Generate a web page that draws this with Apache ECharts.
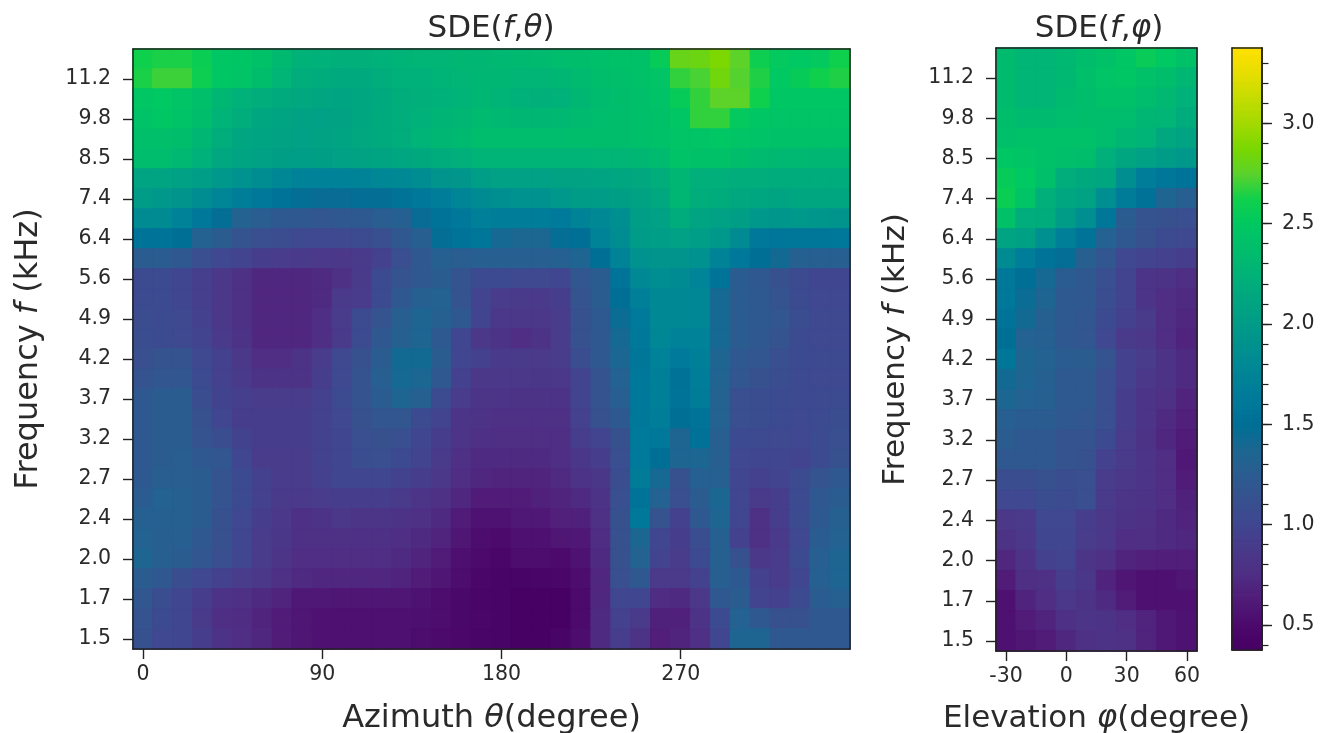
<!DOCTYPE html>
<html><head><meta charset="utf-8">
<style>html,body{margin:0;padding:0;background:#fff}#c{width:1321px;height:733px;filter:blur(0.6px)}</style>
<script src="https://cdn.jsdelivr.net/npm/echarts@6/dist/echarts.min.js"></script>
</head><body><div id="c"></div>
<script>
const azimuthDeg = ['0','10','20','30','40','50','60','70','80','90','100','110','120','130','140','150','160','170','180','190','200','210','220','230','240','250','260','270','280','290','300','310','320','330','340','350'];
const elevationDeg = ['-30','-20','-10','0','10','20','30','40','50','60'];
const freqKHz = ['1.5','1.6','1.7','1.85','2.0','2.2','2.4','2.55','2.7','2.95','3.2','3.45','3.7','3.95','4.2','4.55','4.9','5.25','5.6','6.0','6.4','6.9','7.4','7.9','8.5','9.1','9.8','10.5','11.2','12.0'];
// rows listed top (12.0 kHz) to bottom (1.5 kHz)
const sdeAzimuth = [
[2.62,2.64,2.64,2.58,2.48,2.47,2.42,2.33,2.25,2.24,2.22,2.22,2.24,2.26,2.28,2.28,2.3,2.3,2.32,2.33,2.34,2.36,2.38,2.4,2.42,2.42,2.55,2.8,2.82,2.88,2.76,2.6,2.52,2.5,2.52,2.62],
[2.64,2.7,2.7,2.6,2.48,2.45,2.38,2.28,2.2,2.18,2.16,2.16,2.2,2.24,2.24,2.26,2.28,2.3,2.3,2.28,2.28,2.3,2.34,2.38,2.4,2.42,2.45,2.68,2.72,2.84,2.74,2.65,2.5,2.55,2.62,2.65],
[2.48,2.5,2.46,2.4,2.3,2.24,2.2,2.17,2.14,2.12,2.1,2.12,2.16,2.2,2.22,2.24,2.26,2.3,2.26,2.24,2.22,2.24,2.3,2.35,2.38,2.4,2.44,2.55,2.68,2.76,2.76,2.62,2.48,2.48,2.48,2.48],
[2.44,2.48,2.44,2.38,2.26,2.2,2.12,2.1,2.08,2.06,2.08,2.12,2.17,2.2,2.24,2.27,2.3,2.34,2.32,2.3,2.3,2.32,2.34,2.36,2.38,2.4,2.42,2.48,2.68,2.68,2.52,2.48,2.46,2.46,2.46,2.46],
[2.4,2.4,2.38,2.3,2.2,2.12,2.1,2.08,2.06,2.08,2.1,2.14,2.17,2.2,2.26,2.3,2.33,2.36,2.36,2.36,2.36,2.36,2.38,2.38,2.38,2.4,2.42,2.46,2.46,2.48,2.46,2.44,2.42,2.42,2.42,2.42],
[2.36,2.36,2.32,2.24,2.14,2.1,2.06,2.04,2.02,2.04,2.06,2.08,2.1,2.12,2.15,2.18,2.22,2.26,2.26,2.26,2.26,2.26,2.26,2.28,2.28,2.3,2.34,2.44,2.42,2.42,2.38,2.34,2.32,2.32,2.3,2.3],
[2.1,2.1,2.06,2.02,1.96,1.9,1.84,1.78,1.72,1.72,1.72,1.74,1.78,1.8,1.84,1.92,1.94,2.02,2.06,2.06,2.06,2.08,2.08,2.1,2.12,2.14,2.2,2.3,2.22,2.22,2.2,2.2,2.18,2.18,2.18,2.18],
[2.0,1.96,1.92,1.84,1.76,1.66,1.6,1.55,1.48,1.46,1.46,1.48,1.48,1.54,1.6,1.68,1.76,1.82,1.86,1.9,1.9,1.96,2.0,2.0,2.04,2.08,2.14,2.3,2.2,2.18,2.14,2.12,2.1,2.12,2.12,2.12],
[1.82,1.82,1.72,1.6,1.48,1.32,1.26,1.22,1.2,1.18,1.2,1.22,1.26,1.3,1.46,1.55,1.6,1.7,1.66,1.66,1.66,1.62,1.74,1.8,1.86,2.02,2.06,2.18,2.1,2.06,2.04,1.96,1.94,1.96,1.94,1.92],
[1.55,1.55,1.5,1.32,1.25,1.15,1.1,1.07,1.03,1.03,1.03,1.05,1.1,1.2,1.28,1.48,1.55,1.58,1.4,1.38,1.38,1.48,1.5,1.74,1.84,2.0,2.02,2.06,2.02,1.96,1.82,1.6,1.58,1.58,1.58,1.6],
[1.25,1.25,1.2,1.1,1.02,.98,.92,.9,.88,.86,.85,.87,.95,1.1,1.2,1.3,1.26,1.28,1.28,1.28,1.28,1.3,1.35,1.5,1.74,1.9,1.92,1.92,1.9,1.74,1.6,1.5,1.42,1.3,1.28,1.28],
[1.05,1.05,1.0,.93,.85,.78,.7,.7,.7,.72,.78,.88,1.05,1.15,1.2,1.25,1.15,1.05,1.05,1.03,1.03,1.0,1.18,1.25,1.55,1.8,1.85,1.82,1.75,1.55,1.25,1.2,1.12,1.05,1.0,1.0],
[1.05,1.05,1.0,.93,.85,.78,.7,.7,.7,.72,.88,.9,1.05,1.2,1.3,1.32,1.15,.98,.9,.88,.88,.92,1.15,1.25,1.5,1.7,1.8,1.8,1.78,1.4,1.25,1.22,1.15,1.05,1.02,1.02],
[1.07,1.06,1.03,.95,.85,.78,.7,.7,.7,.76,.9,1.05,1.15,1.28,1.35,1.3,1.2,.98,.85,.85,.85,.9,1.12,1.22,1.45,1.62,1.8,1.8,1.78,1.4,1.25,1.22,1.18,1.08,1.03,1.03],
[1.08,1.06,1.03,.98,.87,.8,.7,.7,.7,.76,.88,1.05,1.2,1.3,1.35,1.22,1.0,.85,.8,.75,.8,.9,1.12,1.2,1.4,1.6,1.78,1.72,1.72,1.4,1.25,1.2,1.15,1.06,1.03,1.03],
[1.1,1.15,1.15,1.03,.95,.85,.75,.75,.8,.9,1.03,1.12,1.25,1.42,1.42,1.25,1.0,.95,.88,.88,.86,.9,1.08,1.2,1.38,1.58,1.72,1.62,1.7,1.35,1.2,1.18,1.1,1.06,1.04,1.04],
[1.15,1.18,1.18,1.05,.95,.88,.8,.8,.8,.92,1.03,1.15,1.28,1.4,1.38,1.2,.95,.85,.85,.85,.84,.85,.98,1.15,1.32,1.6,1.7,1.52,1.68,1.33,1.18,1.12,1.08,1.04,1.03,1.03],
[1.2,1.25,1.25,1.08,.97,.93,.9,.9,.9,.95,1.05,1.15,1.25,1.35,1.3,1.05,.9,.82,.82,.8,.8,.8,.98,1.15,1.28,1.6,1.7,1.55,1.65,1.32,1.1,1.08,1.06,1.04,1.04,1.05],
[1.2,1.25,1.25,1.12,1.0,.92,.92,.92,.92,.96,1.02,1.12,1.18,1.18,1.05,.98,.82,.8,.78,.78,.78,.78,.95,1.12,1.22,1.6,1.68,1.5,1.55,1.32,1.1,1.08,1.05,1.03,1.05,1.08],
[1.2,1.25,1.25,1.15,1.08,.96,.92,.92,.92,.96,1.0,1.1,1.12,1.1,1.0,.92,.82,.78,.76,.76,.76,.76,.92,.98,1.12,1.62,1.6,1.35,1.52,1.28,1.06,1.04,1.03,1.02,1.06,1.1],
[1.2,1.25,1.27,1.2,1.18,1.0,.9,.9,.9,.96,1.0,1.08,1.1,1.05,.98,.88,.78,.72,.72,.72,.72,.76,.84,.92,1.1,1.62,1.5,1.35,1.38,1.28,1.02,1.0,1.0,.98,1.06,1.12],
[1.22,1.27,1.27,1.25,1.15,1.05,.95,.9,.9,.95,1.0,1.0,1.0,.96,.92,.85,.75,.7,.68,.68,.68,.72,.8,.84,1.08,1.65,1.4,1.12,1.3,1.3,1.0,.95,.98,1.05,1.15,1.2],
[1.25,1.32,1.3,1.25,1.15,1.05,.95,.88,.88,.9,.92,.92,.92,.88,.82,.78,.7,.62,.62,.62,.66,.68,.72,.8,1.1,1.55,1.32,1.1,1.25,1.38,1.0,.88,.92,1.05,1.2,1.25],
[1.3,1.3,1.3,1.25,1.12,1.02,.92,.85,.78,.8,.85,.82,.82,.8,.78,.72,.62,.56,.56,.6,.6,.65,.66,.78,1.12,1.6,1.15,.95,1.2,1.35,1.0,.78,.92,1.05,1.22,1.3],
[1.32,1.28,1.28,1.2,1.12,1.0,.9,.84,.78,.78,.78,.78,.78,.76,.72,.68,.58,.52,.5,.55,.55,.58,.6,.74,1.12,1.38,1.0,.92,1.08,1.3,.95,.78,.88,1.02,1.25,1.32],
[1.35,1.28,1.25,1.18,1.1,1.0,.9,.82,.75,.75,.75,.75,.75,.72,.68,.62,.54,.5,.46,.52,.52,.5,.56,.72,1.12,1.32,.98,.9,1.05,1.3,1.12,.85,.9,1.05,1.28,1.35],
[1.25,1.2,1.08,1.02,.95,.9,.85,.78,.72,.7,.7,.7,.7,.68,.62,.58,.52,.46,.42,.42,.44,.46,.52,.7,1.1,1.2,.86,.86,.95,1.28,1.22,.95,.9,1.0,1.3,1.35],
[1.18,1.08,1.0,.92,.8,.78,.72,.68,.6,.6,.58,.58,.58,.58,.56,.52,.48,.44,.42,.38,.38,.38,.5,.7,1.0,1.0,.74,.72,.85,1.2,1.25,.98,.95,1.05,1.25,1.3],
[1.15,1.05,1.0,.88,.76,.74,.68,.62,.58,.56,.55,.55,.55,.55,.54,.52,.48,.45,.42,.38,.38,.38,.5,.72,.95,.88,.66,.66,.8,1.05,1.32,1.2,1.12,1.12,1.2,1.2],
[1.12,1.02,1.0,.92,.8,.75,.7,.62,.58,.56,.55,.55,.55,.55,.52,.5,.47,.44,.42,.38,.38,.42,.52,.72,.92,.8,.64,.68,.78,1.0,1.35,1.35,1.2,1.2,1.2,1.2]
];
const sdeElevation = [
[2.35,2.28,2.28,2.32,2.38,2.42,2.48,2.56,2.5,2.42],
[2.35,2.28,2.28,2.32,2.4,2.45,2.48,2.42,2.38,2.3],
[2.35,2.28,2.28,2.34,2.38,2.42,2.42,2.36,2.32,2.24],
[2.38,2.34,2.34,2.36,2.38,2.38,2.36,2.3,2.28,2.18],
[2.4,2.42,2.42,2.42,2.42,2.36,2.3,2.26,2.14,2.1],
[2.48,2.46,2.42,2.4,2.38,2.22,2.12,2.06,2.0,1.96],
[2.55,2.5,2.4,2.2,2.15,2.12,1.85,1.68,1.58,1.55],
[2.58,2.45,2.22,2.12,2.08,1.85,1.65,1.52,1.35,1.28],
[2.42,2.2,2.18,2.0,1.85,1.58,1.25,1.15,1.12,1.1],
[2.1,2.05,1.88,1.7,1.55,1.32,1.2,1.12,1.05,1.03],
[1.82,1.68,1.55,1.48,1.28,1.18,1.02,.98,.95,.92],
[1.6,1.5,1.4,1.25,1.2,1.1,.98,.82,.8,.76],
[1.6,1.45,1.35,1.22,1.2,1.08,.98,.82,.75,.72],
[1.55,1.42,1.3,1.22,1.18,1.05,.95,.88,.75,.7],
[1.5,1.32,1.3,1.2,1.18,1.02,.88,.85,.75,.68],
[1.58,1.35,1.32,1.25,1.25,1.15,.95,.9,.8,.72],
[1.42,1.35,1.3,1.22,1.22,1.1,.95,.85,.8,.72],
[1.38,1.32,1.3,1.22,1.22,1.1,.92,.82,.78,.68],
[1.28,1.25,1.25,1.2,1.18,1.1,.92,.82,.72,.65],
[1.25,1.2,1.2,1.15,1.15,1.05,.9,.8,.7,.62],
[1.2,1.2,1.2,1.15,1.12,.95,.88,.82,.75,.6],
[1.08,1.08,1.12,1.08,1.1,.9,.85,.82,.75,.62],
[1.02,1.02,1.08,1.05,1.1,.88,.82,.8,.75,.66],
[.85,.88,1.02,1.02,.92,.85,.8,.78,.72,.68],
[.8,.85,1.0,1.0,.9,.85,.75,.76,.72,.7],
[.7,.8,.95,.98,.82,.78,.68,.65,.64,.64],
[.62,.76,.78,.92,.84,.68,.58,.55,.55,.58],
[.55,.68,.75,.85,.8,.72,.62,.55,.55,.55],
[.55,.62,.68,.78,.82,.8,.75,.68,.6,.56],
[.55,.58,.62,.7,.78,.8,.78,.68,.6,.56]
];
const cbMin = 0.375, cbMax = 3.375;
const cmapStops = ['#470064','#4c0a6c','#511c78','#4f2e84','#4a3a8a','#404690','#37518f','#2b5c90','#1c6792','#006f96','#007a9a','#008497','#009090','#009c88','#00a680','#00b278','#00bd6c','#00c862','#10d04c','#5bd22c','#7ad800','#a2d900','#c4dc00','#e6de00','#ffe000'];
const barTicks = ['0.5','1.0','1.5','2.0','2.5','3.0'];

const ink = '#222', textCol = '#2a2a2a';
const font = 'DejaVu Sans';
const levels = [];
for (let k = 1; k <= 300; k++) levels.push((cbMin + k * 0.01 - 0.005).toFixed(2));

function colorOf(v) {
  return echarts.color.lerp(Math.min(1, Math.max(0, (v - cbMin) / (cbMax - cbMin))), cmapStops);
}
function cell(c, r, v) {
  return {value:[c, r, v], itemStyle:{borderWidth:1, borderColor:colorOf(v)}};
}
function toCells(rows) {
  const out = [];
  const n = rows.length;
  rows.forEach((row, r) => row.forEach((v, c) => out.push(cell(c, n - 1 - r, v))));
  return out;
}
const nameRich = {i:{fontStyle:'italic',fontFamily:font,fontSize:31,color:textCol}};
const bigRich = {i:{fontStyle:'italic',fontFamily:font,fontSize:32,color:textCol}};
const line = {show:true,onZero:false,lineStyle:{color:ink,width:1.5}};
const tick = {show:true,alignWithLabel:true,length:10,lineStyle:{color:ink,width:1.4}};
const lbl = {color:textCol,fontFamily:font,fontSize:20.5};
const border = (data, pos, gi) => ({type:'category',gridIndex:gi,data,position:pos,z:6,axisLine:line,axisTick:{show:false},axisLabel:{show:false},splitLine:{show:false},splitArea:{show:false}});
const nameStyle = {color:textCol,fontFamily:font,fontSize:31,rich:nameRich};
const bigNameStyle = {color:textCol,fontFamily:font,fontSize:32,rich:bigRich};
const isMajor = (i, v) => v.slice(3, 4) === '0' && barTicks.includes(v.slice(0, 3));

const option = {
  animation:false,
  backgroundColor:'#fff',
  title:[
    {text:'SDE({i|f},{i|θ})',left:486,top:8,textAlign:'center',textStyle:{color:textCol,fontFamily:font,fontSize:31,fontWeight:'normal',rich:nameRich}},
    {text:'SDE({i|f},{i|φ})',left:1094,top:8,textAlign:'center',textStyle:{color:textCol,fontFamily:font,fontSize:31,fontWeight:'normal',rich:nameRich}}
  ],
  grid:[
    {left:133,top:49,width:717,height:600,outerBoundsMode:'none'},
    {left:996,top:48,width:201,height:603,outerBoundsMode:'none'},
    {left:1232,top:48,width:30,height:602,outerBoundsMode:'none'}
  ],
  visualMap:{show:false,min:cbMin,max:cbMax,dimension:2,seriesIndex:[0,1,2],inRange:{color:cmapStops}},
  xAxis:[
    {type:'category',gridIndex:0,data:azimuthDeg,position:'bottom',z:6,name:'Azimuth {i|θ}(degree)',nameLocation:'middle',nameGap:54,nameTextStyle:bigNameStyle,axisLine:line,axisTick:{...tick,interval:8},axisLabel:{...lbl,margin:15,interval:8},splitLine:{show:false},splitArea:{show:false}},
    {type:'category',gridIndex:1,data:elevationDeg,position:'bottom',z:6,name:'Elevation {i|φ}(degree)',nameLocation:'middle',nameGap:52,nameTextStyle:nameStyle,axisLine:line,axisTick:{...tick,interval:2},axisLabel:{...lbl,margin:15,interval:2},splitLine:{show:false},splitArea:{show:false}},
    {type:'category',gridIndex:2,data:['bar'],position:'bottom',z:6,axisLine:line,axisTick:{show:false},axisLabel:{show:false},splitLine:{show:false},splitArea:{show:false}},
    border(azimuthDeg,'top',0),
    border(elevationDeg,'top',1),
    border(['bar'],'top',2)
  ],
  yAxis:[
    {type:'category',gridIndex:0,data:freqKHz,position:'left',z:6,name:'Frequency {i|f} (kHz)',nameLocation:'middle',nameGap:88,nameTextStyle:bigNameStyle,axisLine:line,axisTick:{...tick,interval:1},axisLabel:{...lbl,margin:22,interval:1},splitLine:{show:false},splitArea:{show:false}},
    {type:'category',gridIndex:1,data:freqKHz,position:'left',z:6,name:'Frequency {i|f} (kHz)',nameLocation:'middle',nameGap:85,nameTextStyle:nameStyle,axisLine:line,axisTick:{...tick,interval:1},axisLabel:{...lbl,margin:22,interval:1},splitLine:{show:false},splitArea:{show:false}},
    {type:'category',gridIndex:2,data:levels,position:'right',z:6,axisLine:line,
      axisTick:{show:true,alignWithLabel:true,length:10,lineStyle:{color:ink,width:1.4},interval:isMajor},
      axisLabel:{...lbl,margin:20,interval:isMajor,formatter:v=>v.slice(0,3)},splitLine:{show:false},splitArea:{show:false}},
    {type:'category',gridIndex:2,data:levels,position:'right',z:6,axisLine:line,
      axisTick:{show:true,alignWithLabel:true,length:6.5,lineStyle:{color:ink,width:1.2},interval:(i,v)=>v.slice(3,4)==='0'},axisLabel:{show:false},splitLine:{show:false},splitArea:{show:false}},
    border(freqKHz,'right',0),
    border(freqKHz,'right',1),
    border(levels,'left',2)
  ],
  series:[
    {type:'heatmap',xAxisIndex:0,yAxisIndex:0,data:toCells(sdeAzimuth),progressive:0},
    {type:'heatmap',xAxisIndex:1,yAxisIndex:1,data:toCells(sdeElevation),progressive:0},
    {type:'heatmap',xAxisIndex:2,yAxisIndex:2,data:levels.map((v,i)=>cell(0,i,+v)),progressive:0}
  ]
};
echarts.init(document.getElementById('c'),null,{renderer:'canvas'}).setOption(option);
</script></body></html>
